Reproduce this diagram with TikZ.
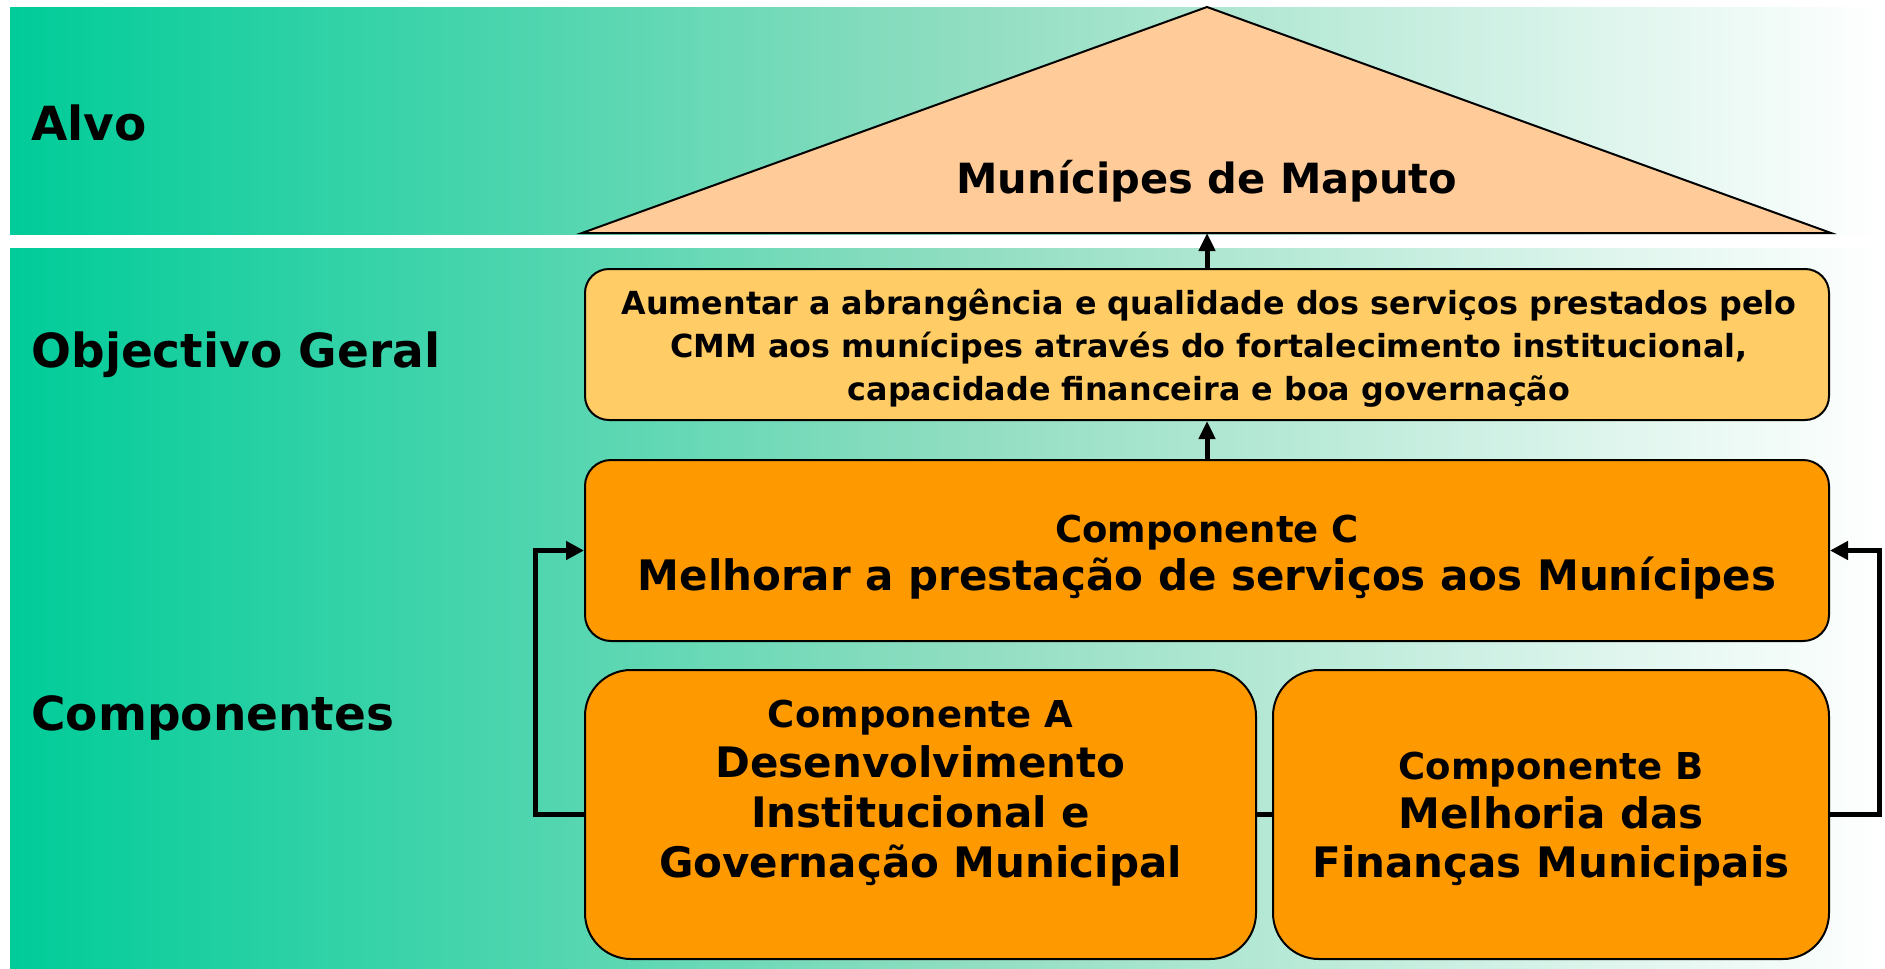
\documentclass[tikz,border=0pt]{standalone}
\usepackage{fontspec}
\setmainfont{DejaVu Sans}
\usetikzlibrary{arrows.meta}
\definecolor{bandgreen}{HTML}{00CC99}
\definecolor{bandmid}{HTML}{8EDDC0}
\definecolor{peachfill}{HTML}{FFCC99}
\definecolor{goldfill}{HTML}{FFCC66}
\definecolor{orangefill}{HTML}{FF9900}
\tikzset{
  band/.style={left color=bandgreen, right color=white, middle color=bandmid},
  rowlabel/.style={anchor=base west, inner sep=0pt, font=\bfseries\fontsize{23.5}{28}\selectfont},
  objbox/.style={draw=black, line width=1pt, fill=goldfill, rounded corners=12pt, inner sep=0pt},
  compbox/.style={draw=black, line width=1pt, fill=orangefill, inner sep=0pt},
  boxtext/.style={align=center, inner sep=0pt},
  uparrow/.style={line width=2.5pt, -{Triangle[length=9pt,width=8pt]}},
  loopline/.style={line width=2.5pt, -{Triangle[length=9pt,width=9pt]}},
  plainline/.style={line width=2.5pt}
}
\newcommand{\smallhead}[1]{{\fontsize{18.5}{24}\selectfont #1}}
\begin{document}
\begin{tikzpicture}[x=0.5pt,y=-0.5pt]
\useasboundingbox (0,0) rectangle (1885,969);
% background bands
\shade[band] (10,7) rectangle (1885,234);
\shade[band] (10,248) rectangle (1885,969);
% row labels
\node[rowlabel] (lalvo) at (31,140) {Alvo};
\node[rowlabel] (lobj) at (31,367) {Objectivo Geral};
\node[rowlabel] (lcomp) at (31,730) {Componentes};
% target triangle
\coordinate (apex) at (1207,7);
\coordinate (tl) at (582,233);
\coordinate (tr) at (1831,233);
\coordinate (tribase) at (1207,233);
\draw[fill=peachfill, line width=1pt, line join=miter] (tl) -- (apex) -- (tr) -- cycle;
\node[anchor=base, inner sep=0pt, font=\bfseries\fontsize{20.8}{25}\selectfont] (alvo) at (1207,193) {Munícipes de Maputo};
% objectivo geral
\node[objbox, minimum width=622pt, minimum height=75.5pt] (obj) at (1207,344.5) {};
\node[boxtext, font=\bfseries\fontsize{15.9}{21.5}\selectfont] (objtext) at (1209,348)
  {Aumentar a abrangência e qualidade dos serviços prestados pelo\\
   CMM aos munícipes através do fortalecimento institucional,\\
   capacidade financeira e boa governação};
% componente C
\node[compbox, rounded corners=13pt, minimum width=622pt, minimum height=90.5pt] (compc) at (1207,550.5) {};
\node[boxtext, font=\bfseries\fontsize{21}{24}\selectfont] (ctext) at (1207,557)
  {\smallhead{Componente C}\\
   Melhorar a prestação de serviços aos Munícipes};
% componente A
\node[compbox, rounded corners=23pt, minimum width=335.5pt, minimum height=144.5pt] (compa) at (920.5,814.5) {};
\node[boxtext, font=\bfseries\fontsize{21}{25}\selectfont] (atext) at (920.5,793)
  {\smallhead{Componente A}\\
   Desenvolvimento\\
   Institucional e\\
   Governação Municipal};
% componente B
\node[compbox, rounded corners=23pt, minimum width=278pt, minimum height=144.5pt] (compb) at (1551,814.5) {};
\node[boxtext, font=\bfseries\fontsize{21}{24.5}\selectfont] (btext) at (1551,819)
  {\smallhead{Componente B}\\
   Melhoria das\\
   Finanças Municipais};
% connectors
\draw[uparrow] (obj.north) -- (tribase);
\draw[uparrow] (compc.north) -- (obj.south);
\draw[plainline] (compa.east) -- (compb.west);
\draw[loopline] (compa.west) -- ++(-49,0) |- (compc.west);
\draw[loopline] (compb.east) -- ++(49,0) |- (compc.east);
\end{tikzpicture}
\end{document}
